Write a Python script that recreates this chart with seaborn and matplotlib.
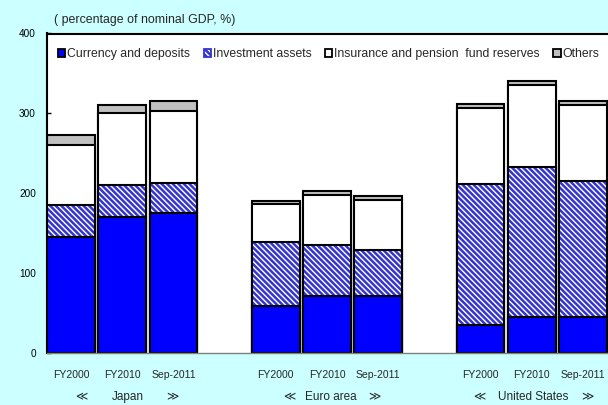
import numpy as np
import matplotlib
matplotlib.use("Agg")
import matplotlib.pyplot as plt
from matplotlib.patches import Patch
import seaborn as sns

# ---- data ----
periods = ["FY2000", "FY2010", "Sep-2011"] * 3
regions = ["Japan", "Euro area", "United States"]
positions = [0, 1, 2, 4, 5, 6, 8, 9, 10]
currency = [146, 171, 176, 59, 72, 72, 35, 46, 46]
investment = [40, 40, 37, 80, 64, 57, 177, 187, 170]
insurance = [74, 89, 90, 48, 62, 63, 95, 102, 94]
others = [13, 11, 12, 4, 5, 5, 5, 6, 5]
series_names = ["Currency and deposits", "Investment assets",
                "Insurance and pension  fund reserves", "Others"]

sns.set_style("white")
plt.rcParams["font.family"] = ["Liberation Sans", "DejaVu Sans"]
plt.rcParams["hatch.linewidth"] = 1.8

W, H = 608, 405
fig = plt.figure(figsize=(W / 100, H / 100), dpi=100)
fig.patch.set_facecolor("#CCFFFF")

left_px, right_px, top_px, bot_px = 47, 608, 33.5, 353.3
ax = fig.add_axes([left_px / W, 1 - bot_px / H, (right_px - left_px) / W, (bot_px - top_px) / H])
ax.set_facecolor("white")

pos = np.array(positions, dtype=float)
c1 = np.array(currency, dtype=float)
c2 = c1 + np.array(investment)
c3 = c2 + np.array(insurance)
c4 = c3 + np.array(others)

bw = 0.93
lw = 1.5
hatch_blue = "#3434D0"
hatch_pat = "\\\\\\\\\\\\"
common = dict(x=pos, native_scale=True, width=bw, saturation=1, errorbar=None, ax=ax)

sns.barplot(y=c4, color="#C0C0C0", edgecolor="black", linewidth=lw, **common)
sns.barplot(y=c3, color="white", edgecolor="black", linewidth=lw, **common)
sns.barplot(y=c2, color="white", edgecolor=hatch_blue, linewidth=0, hatch=hatch_pat, **common)
sns.barplot(y=c2, color="black", fill=False, linewidth=lw, **common)
sns.barplot(y=c1, color="#0000FF", edgecolor="black", linewidth=lw, **common)

ax.set_ylim(0, 400)
ax.set_xlim(-(71 - 47) / 51.2, (608 - 71) / 51.2)
ax.set_yticks([0, 100, 200, 300, 400])
ax.tick_params(axis="y", direction="in", length=3, width=1, labelsize=7.2, pad=8, left=True, colors="black")
ax.set_xticks(pos)
ax.set_xticklabels(periods)
ax.tick_params(axis="x", length=0, labelsize=7.5, pad=12)
ax.set_xlabel("")
ax.set_ylabel("")

for s in ["top", "left"]:
    ax.spines[s].set_visible(True)
    ax.spines[s].set_color("black")
    ax.spines[s].set_linewidth(1.5)
ax.spines["right"].set_visible(False)
ax.spines["bottom"].set_color("#808080")
ax.spines["bottom"].set_linewidth(1.0)

# legend
handles = [
    Patch(facecolor="#0000FF", edgecolor="black", linewidth=1.3),
    Patch(facecolor="white", edgecolor=hatch_blue, hatch=hatch_pat, linewidth=1.3),
    Patch(facecolor="white", edgecolor="black", linewidth=1.3),
    Patch(facecolor="#C0C0C0", edgecolor="black", linewidth=1.3),
]
leg = ax.legend(handles, series_names, loc="center left", ncol=4, frameon=False,
                bbox_to_anchor=((58 - left_px) / (right_px - left_px), 1 - (54 - top_px) / (bot_px - top_px)),
                handlelength=0.6, handleheight=0.6, handletextpad=0.15,
                columnspacing=1.1, borderaxespad=0.0, borderpad=0.0, fontsize=8.8)

# title / unit
fig.text(54 / W, 1 - 20 / H, "( percentage of nominal GDP, %)", fontsize=8.9, va="center", ha="left")

# group labels (pixel positions: left mark, name, right mark)
group_label_px = [(81, 128, 172), (289, 331, 374), (479, 533, 587)]
for name, (xl, xc, xr) in zip(regions, group_label_px):
    for x, t in ((xl, "≪"), (xc, name), (xr, "≫")):
        fig.text(x / W, 1 - 397 / H, t, fontsize=8.5, ha="center", va="center",
                 family=["Liberation Sans", "DejaVu Sans"])

fig.savefig("out.png", dpi=100, facecolor=fig.get_facecolor())
